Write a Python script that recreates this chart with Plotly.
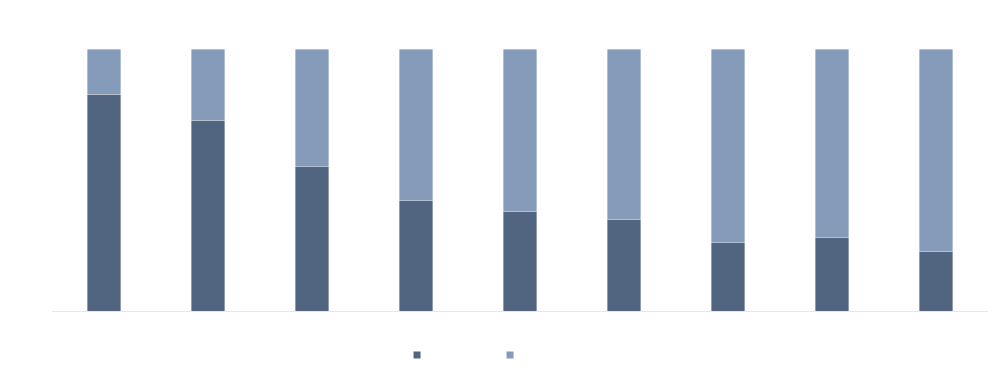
import plotly.graph_objects as go

categories = ["1", "2", "3", "4", "5", "6", "7", "8", "9"]
share_a = [0.828, 0.729, 0.550, 0.420, 0.378, 0.351, 0.260, 0.279, 0.229]
share_b = [round(1 - v, 3) for v in share_a]
series_names = [" ", " "]

dark = "#516580"
light = "#849bb9"

fig = go.Figure()
fig.add_trace(go.Bar(x=categories, y=share_a, marker=dict(color=dark, line=dict(color="rgba(255,255,255,0.6)", width=0.6)),
                     showlegend=False, hoverinfo="y"))
fig.add_trace(go.Bar(x=categories, y=share_b, marker=dict(color=light, line=dict(color="rgba(255,255,255,0.6)", width=0.6)),
                     showlegend=False, hoverinfo="y"))
for name, col in zip(series_names, [dark, light]):
    fig.add_trace(go.Scatter(x=[categories[0]], y=[None], mode="markers", name=name,
                             marker=dict(symbol="square", size=7, color=col), showlegend=True))

fig.update_layout(
    barmode="stack",
    bargap=0.68,
    width=1000, height=373,
    margin=dict(l=52, r=12, t=49, b=62),
    paper_bgcolor="white", plot_bgcolor="white",
    xaxis=dict(showticklabels=False, showgrid=False, zeroline=False, showline=True, linecolor="#e6e6e6", linewidth=1, ticks=""),
    yaxis=dict(range=[0, 1], showticklabels=False, showgrid=False, zeroline=False, showline=False, ticks=""),
    legend=dict(orientation="h", x=0.468, xanchor="center", y=0.048, yanchor="middle", yref="container",
                traceorder="normal",
                itemsizing="trace", entrywidth=48, entrywidthmode="pixels", font=dict(size=10)),
    showlegend=True,
)
fig.write_html("out.html", config={"displayModeBar": False},
               post_script="document.body.style.margin='0';document.body.style.overflow='hidden';")
